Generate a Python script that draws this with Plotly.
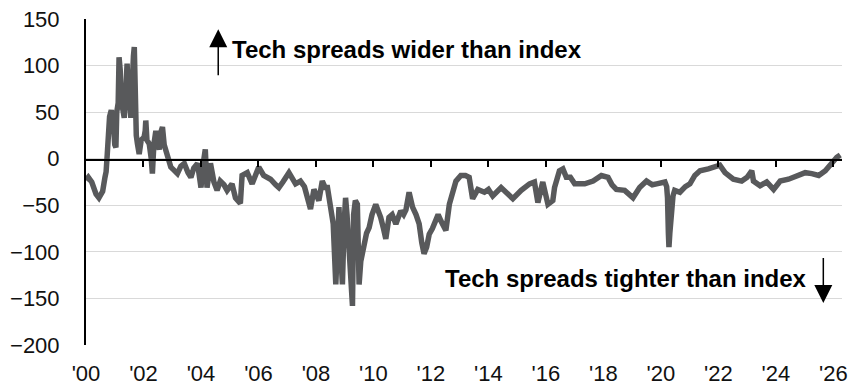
import plotly.graph_objects as go

# Tech minus index spread (bp), sampled at fractional years
years = [
    2000.00, 2000.08, 2000.20, 2000.35, 2000.45, 2000.58, 2000.66, 2000.70, 2000.74, 2000.78,
    2000.82, 2000.88, 2000.95, 2001.00, 2001.04, 2001.07, 2001.12, 2001.15, 2001.19, 2001.22,
    2001.27, 2001.33, 2001.38, 2001.43, 2001.48, 2001.53, 2001.56, 2001.60, 2001.65, 2001.68,
    2001.71, 2001.75, 2001.79, 2001.85, 2001.92, 2002.02, 2002.06, 2002.08, 2002.12, 2002.20,
    2002.27, 2002.31, 2002.36, 2002.43, 2002.50, 2002.55, 2002.62, 2002.66, 2002.72, 2002.78,
    2002.88, 2002.95, 2003.05, 2003.18, 2003.30, 2003.42, 2003.55, 2003.65, 2003.75, 2003.88,
    2003.95, 2004.00, 2004.08, 2004.15, 2004.21, 2004.33, 2004.45, 2004.56, 2004.67, 2004.80,
    2004.91, 2005.08, 2005.20, 2005.30, 2005.37, 2005.43, 2005.61, 2005.78, 2006.01, 2006.18,
    2006.42, 2006.60, 2006.71, 2006.85, 2007.06, 2007.29, 2007.46, 2007.60, 2007.70, 2007.81,
    2007.93, 2008.10, 2008.22, 2008.32, 2008.40, 2008.51, 2008.60, 2008.69, 2008.75, 2008.80,
    2008.86, 2008.92, 2008.98, 2009.03, 2009.08, 2009.14, 2009.22, 2009.27, 2009.31, 2009.37,
    2009.44, 2009.50, 2009.56, 2009.67, 2009.76, 2009.85, 2009.95, 2010.08, 2010.17, 2010.25,
    2010.35, 2010.43, 2010.54, 2010.65, 2010.78, 2010.95, 2011.05, 2011.13, 2011.24, 2011.36,
    2011.48, 2011.59, 2011.68, 2011.76, 2011.85, 2011.94, 2012.05, 2012.17, 2012.25, 2012.35,
    2012.52, 2012.64, 2012.75, 2012.87, 2013.04, 2013.20, 2013.33, 2013.45, 2013.63, 2013.86,
    2014.00, 2014.15, 2014.44, 2014.60, 2014.85, 2015.14, 2015.43, 2015.60, 2015.72, 2015.89,
    2016.07, 2016.24, 2016.30, 2016.47, 2016.59, 2016.71, 2016.85, 2017.00, 2017.35, 2017.64,
    2017.93, 2018.16, 2018.30, 2018.45, 2018.74, 2019.03, 2019.26, 2019.50, 2019.70, 2019.85,
    2020.14, 2020.20, 2020.23, 2020.26, 2020.28, 2020.31, 2020.35, 2020.42, 2020.48, 2020.66,
    2020.85, 2021.01, 2021.18, 2021.36, 2021.65, 2021.85, 2022.05, 2022.23, 2022.52, 2022.81,
    2023.00, 2023.16, 2023.22, 2023.45, 2023.68, 2023.92, 2024.15, 2024.44, 2024.79, 2025.02,
    2025.25, 2025.49, 2025.72, 2025.83, 2025.95, 2026.12, 2026.24,
]
spread = [
    -23, -20, -25, -38, -42, -35, -20, -14, 5, 35,
    45, 52, 40, 15, 12, 50, 60, 109, 95, 60,
    55, 44, 90, 102, 60, 55, 44, 100, 110, 120,
    41, 25, 16, 5, 20, 23, 30, 41, 20, 16,
    0, -16, 15, 30, 15, 10, 30, 34, 15, 9,
    -5, -9, -12, -16, -8, -5, -15, -20, -10, -5,
    -20, -31, -5, 10, -31, -5, -25, -34, -24, -28,
    -34, -27, -42, -45, -48, -18, -15, -27, -9, -18,
    -22, -28, -31, -25, -15, -27, -24, -30, -42, -54,
    -33, -45, -24, -31, -31, -52, -70, -135, -80, -52,
    -100, -135, -70, -42, -60, -100, -130, -158, -60, -45,
    -49, -135, -110, -92, -80, -74, -60, -49, -55, -63,
    -75, -86, -63, -60, -70, -56, -60, -55, -36, -52,
    -60, -70, -90, -102, -95, -81, -75, -65, -60, -67,
    -77, -49, -35, -24, -18, -18, -20, -43, -33, -36,
    -33, -40, -31, -35, -43, -34, -27, -25, -47, -25,
    -49, -45, -31, -13, -11, -20, -20, -27, -27, -24,
    -18, -20, -28, -33, -34, -42, -31, -24, -28, -27,
    -25, -30, -42, -80, -95, -80, -59, -40, -34, -36,
    -30, -27, -18, -13, -11, -9, -7, -15, -22, -24,
    -20, -13, -24, -29, -25, -33, -24, -22, -18, -15,
    -16, -18, -13, -9, -4, 1.5, 4,
]

tick_years = list(range(2000, 2027, 2))
tick_labels = ["'%02d" % (y % 100) for y in tick_years]
y_ticks = [150, 100, 50, 0, -50, -100, -150, -200]

label_font = dict(family="Liberation Sans, Arial, sans-serif", size=22, color="#111111")
note_font = dict(family="Liberation Sans, Arial, sans-serif", size=24, color="#000000")

x_range = [2000, 2026.3]
y_range = [-200, 150]
zero_frac = (0 - y_range[0]) / (y_range[1] - y_range[0])

fig = go.Figure()
fig.add_trace(go.Scatter(
    x=years, y=spread, mode="lines",
    line=dict(color="#58595b", width=5.5),
    hoverinfo="skip", showlegend=False,
))
# empty trace that carries the zero-line axis (upper part of the plot, bottom edge at y=0)
fig.add_trace(go.Scatter(
    x=[years[0]], y=[None], xaxis="x2", yaxis="y2", mode="lines",
    hoverinfo="skip", showlegend=False,
))

fig.update_layout(
    width=856, height=388,
    margin=dict(l=86, r=14, t=19, b=43),
    paper_bgcolor="white", plot_bgcolor="rgba(0,0,0,0)",
    xaxis=dict(
        range=x_range, tickvals=tick_years, ticktext=tick_labels,
        showgrid=False, zeroline=False, showline=False, automargin=False,
        ticks="outside", ticklen=9, tickcolor="rgba(0,0,0,0)",
        tickfont=label_font,
    ),
    xaxis2=dict(
        range=x_range, anchor="y2", side="bottom", automargin=False,
        tickvals=tick_years[1:], showticklabels=False,
        showgrid=False, zeroline=False,
        showline=True, linecolor="#000000", linewidth=2,
        ticks="outside", ticklen=6, tickwidth=2, tickcolor="#000000",
    ),
    yaxis=dict(
        range=y_range, tickvals=y_ticks, automargin=False,
        showgrid=True, gridcolor="#d9d9d9", gridwidth=1,
        zeroline=False, showline=True, linecolor="#000000", linewidth=2,
        ticks="outside", ticklen=20, tickcolor="rgba(0,0,0,0)",
        tickfont=label_font,
    ),
    yaxis2=dict(
        domain=[zero_frac, 1], anchor="x2", range=[0, 1], automargin=False,
        visible=False, showgrid=False, zeroline=False,
    ),
)

# Direction notes with arrows
fig.add_annotation(
    x=2011.16, y=117, xref="x", yref="y", showarrow=False,
    text="<b>Tech spreads wider than index</b>", font=note_font,
)
fig.add_annotation(
    x=2004.6, y=139, ax=2004.6, ay=88, xref="x", yref="y", axref="x", ayref="y",
    text="", showarrow=True, arrowhead=2, arrowsize=2.4, arrowwidth=1.5, arrowcolor="#000000",
)
fig.add_annotation(
    x=2018.77, y=-129, xref="x", yref="y", showarrow=False,
    text="<b>Tech spreads tighter than index</b>", font=note_font,
)
fig.add_annotation(
    x=2025.65, y=-155, ax=2025.65, ay=-105, xref="x", yref="y", axref="x", ayref="y",
    text="", showarrow=True, arrowhead=2, arrowsize=2.4, arrowwidth=1.5, arrowcolor="#000000",
)

fig.write_html("out.html")
